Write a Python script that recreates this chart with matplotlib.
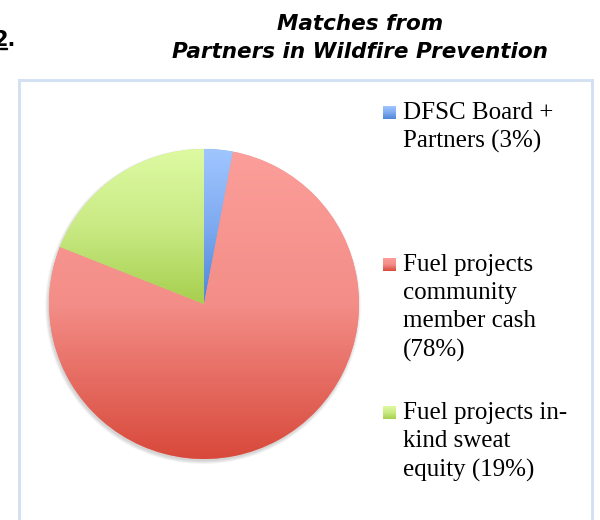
import numpy as np
import matplotlib
matplotlib.use('Agg')
import matplotlib.pyplot as plt
from matplotlib.colors import LinearSegmentedColormap
from matplotlib.patches import Rectangle, Circle

# data
labels = ['DFSC Board +\nPartners (3%)',
          'Fuel projects\ncommunity\nmember cash\n(78%)',
          'Fuel projects in-\nkind sweat\nequity (19%)']
shares = [3, 78, 19]
# gradient stops, top -> bottom
grads = [['#a0c6ff', '#7eaaf0', '#4d86d6'],
         ['#fc9e9a', '#f38d87', '#d8493b'],
         ['#ddfaa2', '#c9ea84', '#a6cf4e']]
legend_y = [113, 265, 413]   # pixel y of first line of each entry

W, H = 600, 520
fig = plt.figure(figsize=(6, 5.2), dpi=100)

def px(x, y):
    return x / W, 1 - y / H

# frame around the chart area
fig.patches.append(Rectangle(px(19, 530), 573 / W, 450 / H, transform=fig.transFigure,
                             fill=False, edgecolor='#d3e1f2', linewidth=2.2))

# title and the cut-off item number
fig.text(*px(360, 24), 'Matches from', ha='center', va='center',
         fontsize=15.5, fontweight='bold', fontstyle='italic', family='DejaVu Sans')
fig.text(*px(360, 52), 'Partners in Wildfire Prevention', ha='center', va='center',
         fontsize=15.5, fontweight='bold', fontstyle='italic', family='DejaVu Sans')
fig.text(*px(-7, 40), '2.', ha='left', va='center', fontsize=15, fontweight='bold')
fig.patches.append(Rectangle(px(0, 49), 7 / W, 1.5 / H, transform=fig.transFigure,
                             color='black'))

# pie
cx, cy, r = 204, 304, 155
ax = fig.add_axes([(cx - r - 6) / W, (H - cy - r - 6) / H, (2 * r + 12) / W, (2 * r + 12) / H])
lim = 1 + 6 / r
ax.set_aspect('equal')
ax.axis('off')

# soft shadow, lower left
for i in range(4):
    ax.add_patch(Circle((-0.006, -0.014), 1 + i * 0.006, color='black', alpha=0.045,
                        linewidth=0, zorder=0))

wedges, _ = ax.pie(shares, startangle=90, counterclock=False, radius=1,
                   colors=[g[1] for g in grads], wedgeprops=dict(linewidth=0))

grad = np.linspace(0, 1, 256).reshape(-1, 1)
for w, g in zip(wedges, grads):
    ext = w.get_path().get_extents()
    cmap = LinearSegmentedColormap.from_list('g', g)
    im = ax.imshow(grad, cmap=cmap, aspect='auto', origin='upper',
                   extent=[ext.x0, ext.x1, ext.y0, ext.y1], zorder=2)
    im.set_clip_path(w)
ax.set_xlim(-lim, lim)
ax.set_ylim(-lim, lim)

# legend
lax = fig.add_axes([0, 0, 1, 1])
lax.axis('off')
for lab, g, y in zip(labels, grads, legend_y):
    cmap = LinearSegmentedColormap.from_list('g', g)
    lax.imshow(grad, cmap=cmap, aspect='auto', extent=[383, 396, y + 6, y - 7])
    lax.text(403, y - 11, lab, ha='left', va='top', fontsize=18,
             family='Liberation Serif', linespacing=1.36)
lax.set_xlim(0, W)
lax.set_ylim(H, 0)

fig.savefig('out.png', dpi=100)
